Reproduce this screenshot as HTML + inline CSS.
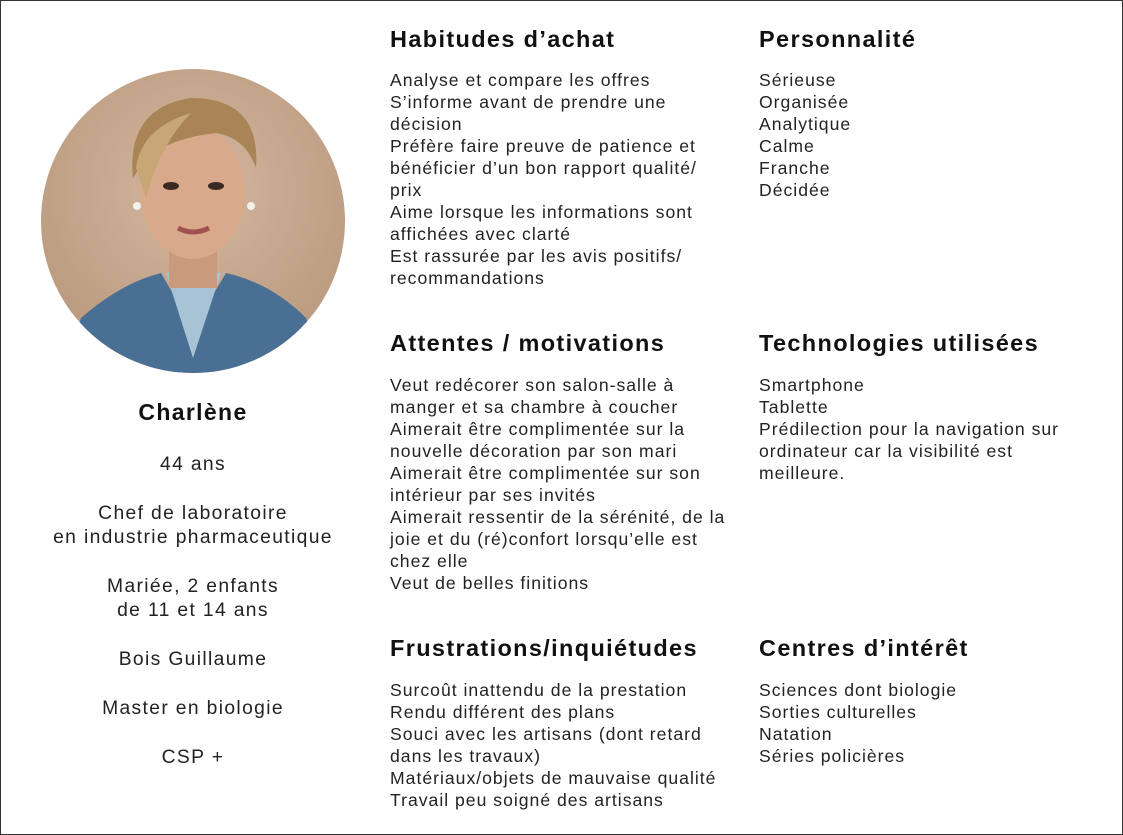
<!DOCTYPE html>
<html><head><meta charset="utf-8"><style>
body{margin:0;width:1123px;height:835px;background:#fff;overflow:hidden;font-family:"Liberation Sans",sans-serif;color:#222}
#card{position:absolute;left:0;top:0;width:1121px;height:833px;border:1px solid #333}
.h{position:absolute;font-weight:bold;font-size:23.5px;letter-spacing:1.35px;color:#111;white-space:nowrap;line-height:26px}
.b{position:absolute;font-size:17.6px;letter-spacing:1.0px;line-height:22px;color:#222;white-space:nowrap}
.l{position:absolute;left:0px;width:384px;text-align:center;font-size:19.3px;letter-spacing:1.35px;color:#222;line-height:24px;white-space:nowrap}
</style></head><body>
<div id="card">
<svg style="position:absolute;left:40px;top:67px" width="304" height="306" viewBox="0 0 304 306">
<defs><clipPath id="c"><circle cx="152" cy="153" r="152"/></clipPath>
<radialGradient id="bg" cx="0.5" cy="0.4" r="0.7"><stop offset="0" stop-color="#d3b79e"/><stop offset="1" stop-color="#b6967b"/></radialGradient></defs>
<g clip-path="url(#c)">
<rect width="304" height="306" fill="url(#bg)"/>
<path d="M20 306 L40 250 Q80 215 120 205 L152 260 L185 205 Q230 215 265 250 L290 306Z" fill="#4a6f94"/>
<path d="M125 205 L152 290 L180 205 Z" fill="#a9c3d6"/>
<rect x="128" y="160" width="48" height="60" fill="#c99a7e"/>
<ellipse cx="152" cy="125" rx="52" ry="66" fill="#d9a98c"/>
<path d="M92 110 Q85 40 150 30 Q220 30 215 100 Q205 70 175 65 Q130 70 105 90 Z" fill="#a88456"/>
<path d="M95 100 Q100 60 150 45 Q120 75 105 130Z" fill="#c9a675"/>
<ellipse cx="130" cy="118" rx="8" ry="4" fill="#3a2a22"/><ellipse cx="175" cy="118" rx="8" ry="4" fill="#3a2a22"/>
<path d="M137 160 Q152 168 168 160" stroke="#a05252" stroke-width="5" fill="none"/>
<circle cx="96" cy="138" r="4" fill="#f4f0ea"/><circle cx="210" cy="138" r="4" fill="#f4f0ea"/>
</g></svg>
<div class="l" style="top:399px;font-weight:bold;font-size:23px;color:#111">Charlène</div>
<div class="l" style="top:452px">44 ans</div>
<div class="l" style="top:501px">Chef de laboratoire<br>en industrie pharmaceutique</div>
<div class="l" style="top:574px">Mariée, 2 enfants<br>de 11 et 14 ans</div>
<div class="l" style="top:647px">Bois Guillaume</div>
<div class="l" style="top:696px">Master en biologie</div>
<div class="l" style="top:745px">CSP +</div>

<div class="h" style="left:389px;top:25px">Habitudes d’achat</div>
<div class="b" style="left:389px;top:68px">Analyse et compare les offres<br>S’informe avant de prendre une<br>décision<br>Préfère faire preuve de patience et<br>bénéficier d’un bon rapport qualité/<br>prix<br>Aime lorsque les informations sont<br>affichées avec clarté<br>Est rassurée par les avis positifs/<br>recommandations</div>

<div class="h" style="left:758px;top:25px">Personnalité</div>
<div class="b" style="left:758px;top:68px">Sérieuse<br>Organisée<br>Analytique<br>Calme<br>Franche<br>Décidée</div>

<div class="h" style="left:389px;top:329px">Attentes / motivations</div>
<div class="b" style="left:389px;top:373px">Veut redécorer son salon-salle à<br>manger et sa chambre à coucher<br>Aimerait être complimentée sur la<br>nouvelle décoration par son mari<br>Aimerait être complimentée sur son<br>intérieur par ses invités<br>Aimerait ressentir de la sérénité, de la<br>joie et du (ré)confort lorsqu’elle est<br>chez elle<br>Veut de belles finitions</div>

<div class="h" style="left:758px;top:329px">Technologies utilisées</div>
<div class="b" style="left:758px;top:373px">Smartphone<br>Tablette<br>Prédilection pour la navigation sur<br>ordinateur car la visibilité est<br>meilleure.</div>

<div class="h" style="left:389px;top:634px">Frustrations/inquiétudes</div>
<div class="b" style="left:389px;top:678px">Surcoût inattendu de la prestation<br>Rendu différent des plans<br>Souci avec les artisans (dont retard<br>dans les travaux)<br>Matériaux/objets de mauvaise qualité<br>Travail peu soigné des artisans</div>

<div class="h" style="left:758px;top:634px">Centres d’intérêt</div>
<div class="b" style="left:758px;top:678px">Sciences dont biologie<br>Sorties culturelles<br>Natation<br>Séries policières</div>
</div>
</body></html>
